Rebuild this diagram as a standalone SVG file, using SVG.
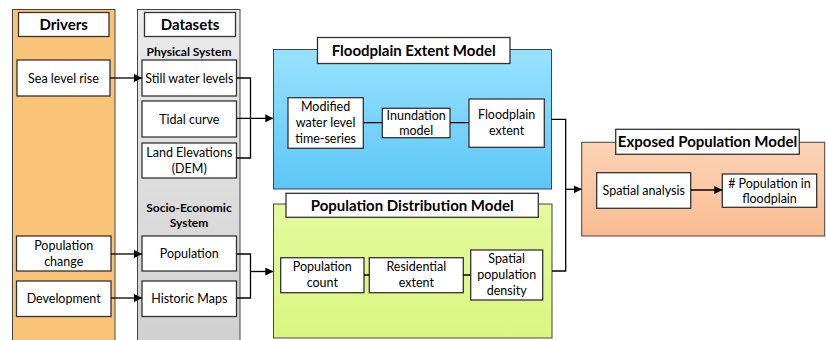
<svg xmlns="http://www.w3.org/2000/svg" width="826" height="340" viewBox="0 0 826 340">
<defs>
<linearGradient id="gGray" x1="0" y1="0" x2="0" y2="1"><stop offset="0" stop-color="#EBEBEB"/><stop offset="1" stop-color="#D0D0D0"/></linearGradient>
<linearGradient id="gBlue" x1="0" y1="0" x2="0" y2="1"><stop offset="0" stop-color="#99E2FF"/><stop offset="1" stop-color="#5CC6F6"/></linearGradient>
<linearGradient id="gGreen" x1="0" y1="0" x2="0" y2="1"><stop offset="0" stop-color="#E4F99E"/><stop offset="1" stop-color="#DAF680"/></linearGradient>
<linearGradient id="gSalmon" x1="0" y1="0" x2="0" y2="1"><stop offset="0" stop-color="#FCD3B6"/><stop offset="1" stop-color="#F9BC93"/></linearGradient>
<marker id="arr" viewBox="0 0 10 10" refX="10" refY="5" markerWidth="8" markerHeight="8" markerUnits="userSpaceOnUse" orient="auto"><path d="M0,0 L10,5 L0,10 z" fill="#000"/></marker>
</defs>
<style>
text{font-family:Lato,"Liberation Sans",sans-serif;fill:#000;text-anchor:middle}
.t{font-size:12.5px}
.h{font-size:15px;font-weight:bold}
.s{font-size:12px;font-weight:bold}
.m{font-size:15px;font-weight:bold}
.box{fill:#fff;stroke:#333;stroke-width:1.3}
.pan{stroke:#444;stroke-width:1}
.c{fill:none;stroke:#000;stroke-width:1.3}
</style>
<rect width="826" height="340" fill="#fff"/>

<g id="drivers">
<rect class="pan" x="12.5" y="9.5" width="102.5" height="335" fill="#FAC478"/>
<rect class="box" x="18.5" y="12.5" width="90.5" height="24"/>
<text class="h" x="63.7" y="30">Drivers</text>
</g>
<g id="sea-level-rise"><rect class="box" x="17" y="60" width="93" height="36"/><text class="t" x="63.5" y="82.5">Sea level rise</text></g>
<g id="population-change"><rect class="box" x="16.5" y="236" width="94.5" height="35"/><text class="t" x="63.7" y="250">Population</text><text class="t" x="63.7" y="266">change</text></g>
<g id="development"><rect class="box" x="16.5" y="281" width="94.5" height="35.5"/><text class="t" x="63.7" y="303">Development</text></g>

<g id="datasets">
<rect class="pan" x="137.5" y="9.5" width="102.5" height="335" fill="url(#gGray)"/>
<rect class="box" x="144.5" y="12.5" width="91" height="24"/>
<text class="h" x="190" y="30">Datasets</text>
<text class="s" x="189" y="56">Physical System</text>
<text class="s" x="189" y="212">Socio-Economic</text>
<text class="s" x="189" y="227">System</text>
</g>
<g id="still-water-levels"><rect class="box" x="142" y="60" width="94.5" height="36"/><text class="t" x="189.3" y="82.5">Still water levels</text></g>
<g id="tidal-curve"><rect class="box" x="142" y="101" width="94.5" height="36"/><text class="t" x="189.3" y="123.5">Tidal curve</text></g>
<g id="land-elevations"><rect class="box" x="142" y="143" width="94.5" height="35"/><text class="t" x="189.3" y="157">Land Elevations</text><text class="t" x="189.3" y="173">(DEM)</text></g>
<g id="population"><rect class="box" x="142" y="236" width="94.5" height="35"/><text class="t" x="189.3" y="258">Population</text></g>
<g id="historic-maps"><rect class="box" x="142" y="281" width="94.5" height="35.5"/><text class="t" x="189.3" y="303">Historic Maps</text></g>

<g id="floodplain-extent-model">
<rect class="pan" x="273.5" y="49.5" width="278" height="139.5" fill="url(#gBlue)"/>
<rect class="box" x="317.5" y="37.5" width="192.5" height="26"/>
<text class="m" x="413.7" y="55.5">Floodplain Extent Model</text>
</g>
<g id="modified-water-level"><rect class="box" x="288" y="97.7" width="75.3" height="50.6"/><text class="t" x="325.6" y="111">Modified</text><text class="t" x="325.6" y="127">water level</text><text class="t" x="325.6" y="143">time-series</text></g>
<g id="inundation-model"><rect class="box" x="382.3" y="108.3" width="67.7" height="29.4"/><text class="t" x="416.2" y="120">Inundation</text><text class="t" x="416.2" y="135">model</text></g>
<g id="floodplain-extent"><rect class="box" x="469" y="99" width="75.3" height="48.3"/><text class="t" x="506.6" y="119">Floodplain</text><text class="t" x="506.6" y="135">extent</text></g>

<g id="population-distribution-model">
<rect class="pan" x="273.5" y="204" width="278.5" height="134" fill="url(#gGreen)"/>
<rect class="box" x="286" y="193.3" width="252.3" height="24"/>
<text class="m" x="412.2" y="210.5">Population Distribution Model</text>
</g>
<g id="population-count"><rect class="box" x="280.7" y="257.7" width="83.3" height="35"/><text class="t" x="322.3" y="271">Population</text><text class="t" x="322.3" y="287">count</text></g>
<g id="residential-extent"><rect class="box" x="369.3" y="257.7" width="94" height="35"/><text class="t" x="416.3" y="271">Residential</text><text class="t" x="416.3" y="287">extent</text></g>
<g id="spatial-population-density"><rect class="box" x="470.7" y="250" width="72" height="50"/><text class="t" x="506.7" y="263">Spatial</text><text class="t" x="506.7" y="279">population</text><text class="t" x="506.7" y="295">density</text></g>

<g id="exposed-population-model">
<rect class="pan" x="581.7" y="142.3" width="243" height="93.7" fill="url(#gSalmon)"/>
<rect class="box" x="615.7" y="129.3" width="183.6" height="25"/>
<text class="m" x="707.5" y="147">Exposed Population Model</text>
</g>
<g id="spatial-analysis"><rect class="box" x="596.7" y="172.7" width="94" height="35.6"/><text class="t" x="643.7" y="195">Spatial analysis</text></g>
<g id="population-in-floodplain"><rect class="box" x="722.3" y="174" width="94.4" height="33.3"/><text class="t" x="769.5" y="187.5"># Population in</text><text class="t" x="769.5" y="203">floodplain</text></g>

<g id="connectors">
<path class="c" d="M110,78 H142" marker-end="url(#arr)"/>
<path class="c" d="M111,254 H142" marker-end="url(#arr)"/>
<path class="c" d="M111,298 H142" marker-end="url(#arr)"/>
<path class="c" d="M236.5,78 H250.5 V158 H236.5"/>
<path class="c" d="M236.5,118.3 H273.3" marker-end="url(#arr)"/>
<path class="c" d="M236.5,254 H250.5 V298 H236.5"/>
<path class="c" d="M250.5,271.5 H273.3" marker-end="url(#arr)"/>
<path class="c" d="M363.3,122.7 H382.3 M450,122.7 H469"/>
<path class="c" d="M364,275 H369.3 M463.3,275 H470.7"/>
<path class="c" d="M551.5,119.3 H565.7 V271 H552"/>
<path class="c" d="M565.7,189.3 H581.7" marker-end="url(#arr)"/>
<path class="c" d="M690.7,190 H722.3" marker-end="url(#arr)"/>
</g>
</svg>
